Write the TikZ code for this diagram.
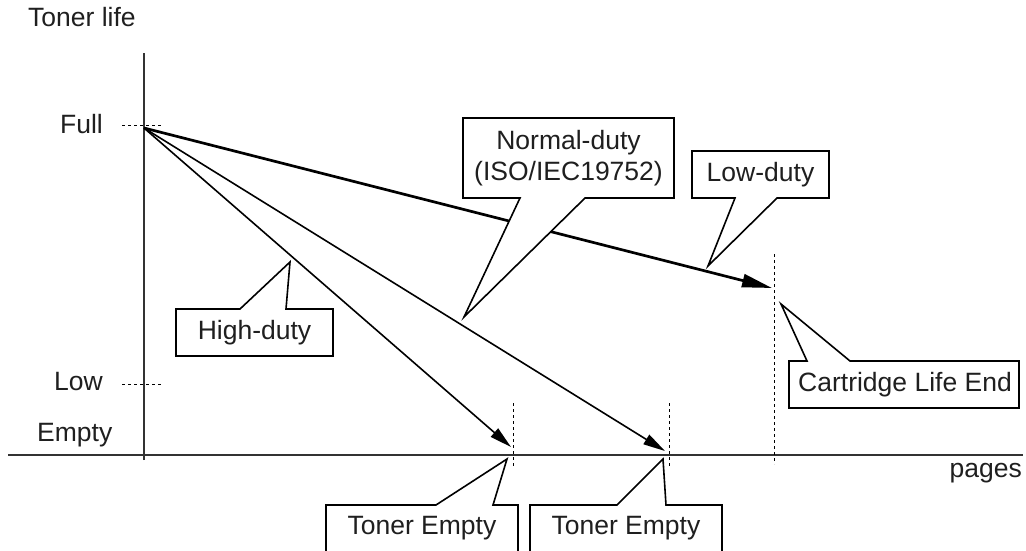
\documentclass[tikz,border=0pt]{standalone}
\usepackage{fontspec}
\setmainfont{Liberation Sans}
\usetikzlibrary{arrows.meta}
\begin{document}
\begin{tikzpicture}[x=1pt,y=-1pt,
  lbl/.style={inner sep=0pt,font=\fontsize{26.5}{31}\selectfont,text=black!88},
  axisline/.style={line width=1.2pt,black!80},
  guide/.style={line width=1pt,dash pattern=on 3pt off 3pt},
  thinarrow/.style={line width=1.6pt,-{Triangle[length=22pt,width=11pt]}},
  thickarrow/.style={line width=2.7pt,-{Triangle[length=30pt,width=13pt]}},
  callout/.style={line width=1.6pt,fill=white,line join=miter}]
\useasboundingbox (0,0) rectangle (1026,551);
% axes
\coordinate (yb) at (144,460);
\coordinate (yt) at (144,53);
\coordinate (xl) at (8,455);
\coordinate (xr) at (1023,455);
\draw[axisline] (yb) -- (yt);
\draw[axisline] (xl) -- (xr);
% axis labels
\node[lbl,anchor=west] (tl) at (28,17) {Toner life};
\node[lbl,anchor=east] (full) at (103,124) {Full};
\node[lbl,anchor=east] (low) at (103,382) {Low};
\node[lbl,anchor=west] (empty) at (37,435) {Empty};
\node[lbl,anchor=east] (pages) at (1022,473) {pages};
% guide dashes
\coordinate (f1) at (122,125); \coordinate (f2) at (163,125);
\coordinate (l1) at (122,384); \coordinate (l2) at (163,384);
\draw[guide] (f1) -- (f2);
\draw[guide] (l1) -- (l2);
\coordinate (d1t) at (513,403); \coordinate (d1b) at (513,467);
\coordinate (d2t) at (669,403); \coordinate (d2b) at (669,467);
\coordinate (d3t) at (774,254); \coordinate (d3b) at (774,464);
\draw[guide] (d1t) -- (d1b);
\draw[guide] (d2t) -- (d2b);
\draw[guide] (d3t) -- (d3b);
% curves
\coordinate (O) at (144,128);
\coordinate (hiEnd) at (511,447);
\coordinate (noEnd) at (665,451);
\coordinate (loEnd) at (772,288);
\draw[thinarrow] (O) -- (hiEnd);
\draw[thinarrow] (O) -- (noEnd);
\draw[thickarrow] (O) -- (loEnd);
% callouts
\draw[callout] (176,309) -- (240,309) -- (290,262) -- (286,309) -- (333,309) -- (333,356) -- (176,356) -- cycle;
\node[lbl] (high) at (254.5,332.5) {High-duty};
\draw[callout] (463,118) -- (674,118) -- (674,198) -- (585,198) -- (464,317) -- (520,198) -- (463,198) -- cycle;
\node[lbl,align=center] (normal) at (568.5,158) {Normal-duty\\(ISO/IEC19752)};
\draw[callout] (692,151) -- (829,151) -- (829,198) -- (777,198) -- (708,266) -- (735,198) -- (692,198) -- cycle;
\node[lbl] (lowduty) at (760.5,174.5) {Low-duty};
\draw[callout] (789,361) -- (807,361) -- (781,304) -- (850,361) -- (1019,361) -- (1019,408) -- (789,408) -- cycle;
\node[lbl] (cle) at (905,384.5) {Cartridge Life End};
\fill[white] (326,505) rectangle (518,551);
\draw[callout] (326,551) -- (326,505) -- (436,505) -- (507,459) -- (493,505) -- (518,505) -- (518,551);
\node[lbl] (te1) at (422,528) {Toner Empty};
\fill[white] (530,505) rectangle (722,551);
\draw[callout] (530,551) -- (530,505) -- (617,505) -- (663,459) -- (666,505) -- (722,505) -- (722,551);
\node[lbl] (te2) at (626,528) {Toner Empty};
\end{tikzpicture}
\end{document}
